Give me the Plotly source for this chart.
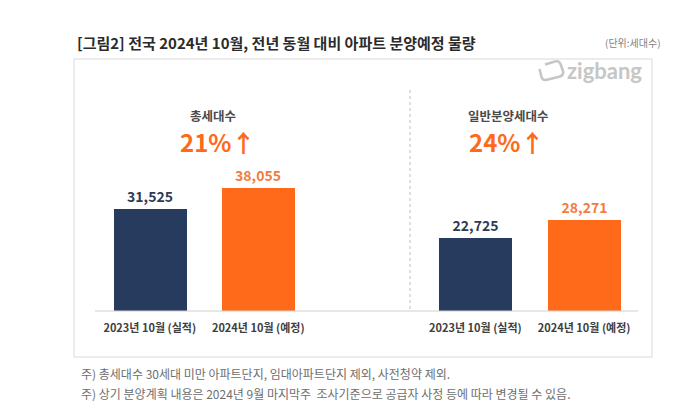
import plotly.graph_objects as go

# ---- data ----
categories = ["2023년 10월 (실적)", "2024년 10월 (예정)"]
total_units = [31525, 38055]
general_units = [22725, 28271]
total_label = "총세대수"
general_label = "일반분양세대수"
total_change = "21%"
general_change = "24%"
title_text = "[그림2] 전국 2024년 10월, 전년 동월 대비 아파트 분양예정 물량"
unit_text = "(단위:세대수)"
notes = [
    "주) 총세대수 30세대 미만 아파트단지, 임대아파트단지 제외, 사전청약 제외.",
    "주) 상기 분양계획 내용은 2024년 9월 마지막주  조사기준으로 공급자 사정 등에 따라 변경될 수 있음.",
]

OFF = 8  # page body margin
W, H = 700 - 2 * OFF, 414 - 2 * OFF
NAVY = "#263B5E"
ORANGE = "#FF6A1A"
ORANGE_TXT = "#F47C3C"
FONT = "Noto Sans CJK KR"


def px(x):
    return (x - OFF) / W


def py(y):
    return 1 - (y - OFF) / H


bar_colors = [NAVY, ORANGE]
label_colors = ["#2E3B55", ORANGE_TXT]

fig = go.Figure()
fig.add_trace(go.Bar(
    x=categories, y=total_units, xaxis="x", yaxis="y",
    marker=dict(color=bar_colors, line=dict(width=0)), width=0.67,
    text=[f"{v:,}" for v in total_units], textposition="outside",
    textfont=dict(family=FONT, size=14, color=label_colors, weight="bold"),
    cliponaxis=False, hoverinfo="skip",
))
fig.add_trace(go.Bar(
    x=categories, y=general_units, xaxis="x2", yaxis="y",
    marker=dict(color=bar_colors, line=dict(width=0)), width=0.67,
    text=[f"{v:,}" for v in general_units], textposition="outside",
    textfont=dict(family=FONT, size=14, color=label_colors, weight="bold"),
    cliponaxis=False, hoverinfo="skip",
))

y_bottom_px, y_top_px = 311, 100
ymax = (y_bottom_px - y_top_px) * max(total_units) / 123.0

xaxis_common = dict(
    type="category", showgrid=False, zeroline=False, showline=False,
    ticks="", ticklabelstandoff=9,
    tickfont=dict(family=FONT, size=11, color="#404040", weight="bold"),
    range=[-0.5, 1.5], anchor="y", fixedrange=True,
)
fig.update_layout(
    width=W, height=H,
    margin=dict(l=0, r=0, t=0, b=0),
    paper_bgcolor="white", plot_bgcolor="rgba(0,0,0,0)",
    showlegend=False, bargap=0,
    font=dict(family=FONT),
    xaxis=dict(domain=[px(95.5), px(312.5)], **xaxis_common),
    xaxis2=dict(domain=[px(421), px(638.5)], **xaxis_common),
    yaxis=dict(domain=[py(y_bottom_px), py(y_top_px)], range=[0, ymax],
               visible=False, fixedrange=True),
)

shapes = []
# outer box
shapes.append(dict(type="rect", xref="paper", yref="paper",
                   x0=px(74), x1=px(652), y0=py(357), y1=py(59),
                   line=dict(color="#D9D9D9", width=1), fillcolor="rgba(0,0,0,0)", layer="below"))
# baseline
shapes.append(dict(type="line", xref="paper", yref="paper",
                   x0=px(95), x1=px(638), y0=py(311), y1=py(311),
                   line=dict(color="#D0D0D0", width=1)))
# dashed separator
shapes.append(dict(type="line", xref="paper", yref="paper",
                   x0=px(410), x1=px(410), y0=py(90), y1=py(310),
                   line=dict(color="#BDBDBD", width=1, dash="dot")))
# zigbang icon
pts = "M {} {} L {} {} Q {} {} {} {} L {} {} Q {} {} {} {} L {} {} Q {} {} {} {} L {} {}".format(
    px(545), py(64.5), px(555), py(61.5), px(559), py(60.5), px(560.5), py(64),
    px(563), py(71), px(564), py(75), px(560), py(76.5),
    px(546), py(80), px(542.5), py(80.5), px(541.5), py(77), px(539.5), py(69))
shapes.append(dict(type="path", xref="paper", yref="paper", path=pts,
                   line=dict(color="#C6C6C6", width=2.6)))

annotations = []


def ann(text, x, y, size, color, xanchor="center", bold=False, family=FONT):
    annotations.append(dict(
        text=text, x=px(x), y=py(y), xref="paper", yref="paper",
        xanchor=xanchor, yanchor="middle", showarrow=False,
        font=dict(family=family, size=size, color=color, weight="bold" if bold else "normal"),
    ))


ann(title_text, 75, 42, 15, "#2B2B2B", xanchor="left", bold=True)
ann(unit_text, 663, 42, 10, "#7F7F7F", xanchor="right")
ann("zigbang", 565, 71, 22, "#C6C6C6", xanchor="left", bold=True, family="Lato")
ann(total_label, 213, 115, 12.5, "#4A4A4A", bold=True)
ann(total_change + "↑", 217, 141, 24, ORANGE, bold=True)
ann(general_label, 509, 115, 12.5, "#4A4A4A", bold=True)
ann(general_change + "↑", 506, 141, 24, ORANGE, bold=True)
ann(notes[0], 79, 373, 12, "#6E6E6E", xanchor="left")
ann(notes[1], 79, 393, 12, "#6E6E6E", xanchor="left")

fig.update_layout(shapes=shapes, annotations=annotations)
fig.write_html("out.html")
